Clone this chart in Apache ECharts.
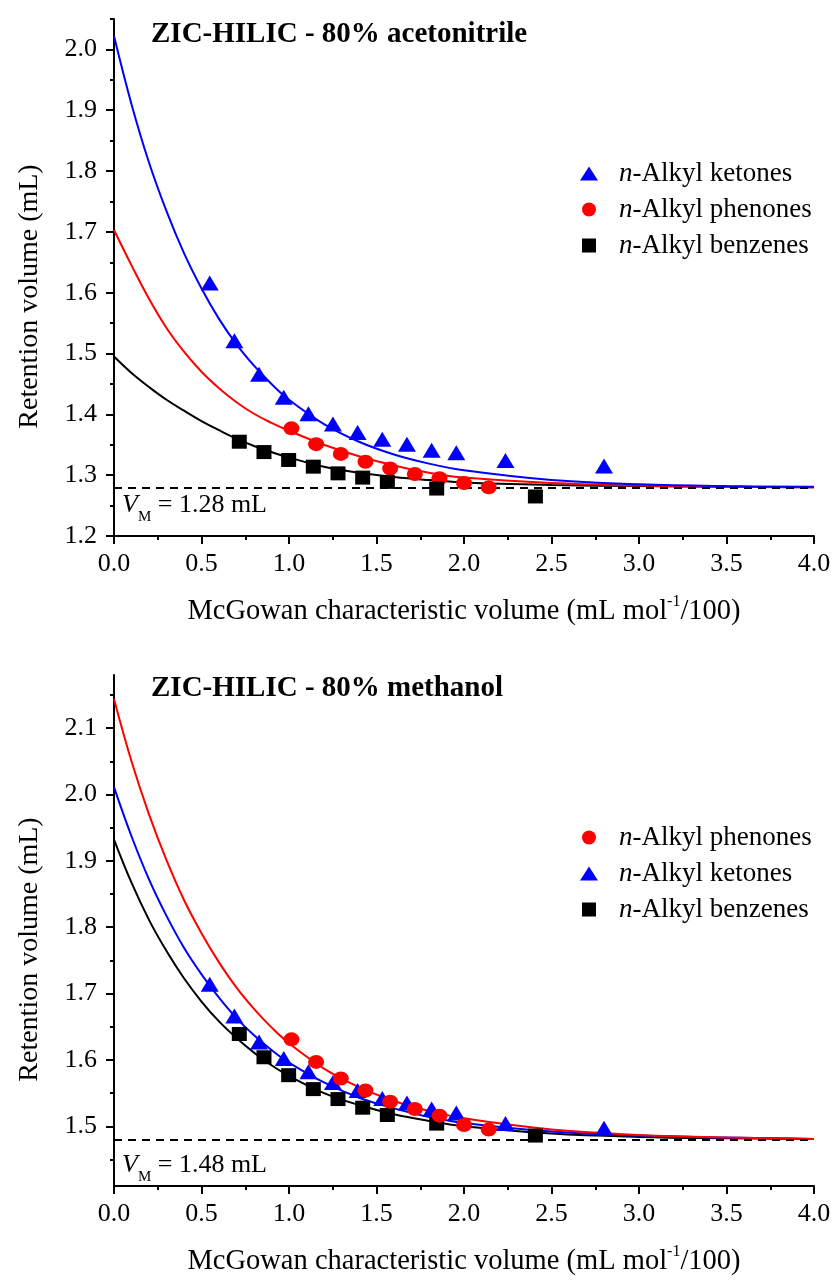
<!DOCTYPE html>
<html><head><meta charset="utf-8">
<script src="https://cdn.jsdelivr.net/npm/echarts@6/dist/echarts.min.js"></script>
<style>html,body{margin:0;padding:0;background:#fff}#c{width:835px;height:1281px}</style>
</head><body><div id="c"></div>
<script>
const FONT = '"Liberation Serif","Times New Roman",serif';

// --- names ---
const nameKetones = 'n-Alkyl ketones';
const namePhenones = 'n-Alkyl phenones';
const nameBenzenes = 'n-Alkyl benzenes';
const titleAcn = 'ZIC-HILIC - 80% acetonitrile';
const titleMeoh = 'ZIC-HILIC - 80% methanol';

// --- McGowan volumes (x) ---
const xKetones = [0.547,0.688,0.829,0.970,1.111,1.251,1.392,1.533,1.674,1.815,1.956,2.237,2.800];
const xPhenones = [1.014,1.155,1.296,1.437,1.578,1.719,1.860,2.000,2.141];
const xBenzenes = [0.716,0.857,0.998,1.139,1.280,1.421,1.562,1.844,2.408];

// --- 80% acetonitrile retention volumes ---
const acnKetones = [1.616,1.521,1.466,1.428,1.401,1.384,1.370,1.359,1.351,1.341,1.337,1.324,1.315];
const acnPhenones = [1.377,1.351,1.335,1.322,1.311,1.302,1.295,1.287,1.280];
const acnBenzenes = [1.355,1.338,1.325,1.314,1.303,1.296,1.289,1.278,1.265];

// --- 80% methanol retention volumes ---
const meohKetones = [1.714,1.666,1.627,1.602,1.582,1.566,1.554,1.542,1.535,1.526,1.520,1.504,1.497];
const meohPhenones = [1.631,1.597,1.572,1.554,1.537,1.526,1.516,1.502,1.495];
const meohBenzenes = [1.639,1.604,1.577,1.556,1.541,1.528,1.517,1.504,1.486];

// --- fitted curves ---
const xFit = [0,0.1,0.2,0.3,0.4,0.5,0.6,0.7,0.8,0.9,1.0,1.2,1.4,1.6,1.8,2.0,2.5,3.0,3.5,4.0];
const fitAcnKetones  = [2.022,1.910,1.814,1.734,1.665,1.607,1.557,1.515,1.480,1.450,1.424,1.384,1.355,1.334,1.319,1.308,1.292,1.285,1.282,1.281];
const fitAcnPhenones = [1.703,1.645,1.590,1.542,1.503,1.470,1.443,1.420,1.401,1.386,1.373,1.350,1.331,1.316,1.304,1.296,1.287,1.283,1.281,1.280];
const fitAcnBenzenes = [1.495,1.468,1.445,1.424,1.406,1.389,1.374,1.360,1.348,1.338,1.329,1.314,1.304,1.297,1.292,1.288,1.284,1.282,1.281,1.280];
const fitMeohPhenones = [2.144,2.050,1.970,1.901,1.841,1.791,1.747,1.709,1.677,1.649,1.625,1.587,1.559,1.538,1.523,1.512,1.495,1.487,1.483,1.481];
const fitMeohKetones  = [2.011,1.937,1.872,1.817,1.769,1.729,1.694,1.663,1.637,1.615,1.596,1.566,1.543,1.527,1.514,1.505,1.492,1.486,1.483,1.481];
const fitMeohBenzenes = [1.932,1.867,1.811,1.764,1.723,1.688,1.658,1.633,1.611,1.592,1.576,1.550,1.532,1.518,1.508,1.500,1.489,1.484,1.482,1.481];

// --- dead volumes ---
const vmAcn = 1.28;
const vmMeoh = 1.48;

// --- axis ticks ---
const xMin = 0, xMax = 4, xStep = 0.5;
const yTicksAcn = [1.2,1.3,1.4,1.5,1.6,1.7,1.8,1.9,2.0];
const yMinorAcn = [1.25,1.35,1.45,1.55,1.65,1.75,1.85,1.95,2.05];
const yRangeAcn = [1.2, 2.05];
const yTicksMeoh = [1.5,1.6,1.7,1.8,1.9,2.0,2.1];
const yMinorMeoh = [1.45,1.55,1.65,1.75,1.85,1.95,2.05,2.15];
const yRangeMeoh = [1.41, 2.18];

const BLUE = '#0000ff', RED = '#ff0000', BLACK = '#000000';
const ELLIPSE = 'path://M0,50A50,50,0,1,1,100,50A50,50,0,1,1,0,50Z';
const SQUARE = 'path://M0,0H10V10H0Z';

const zip = (xs, ys) => xs.map((x, i) => [x, ys[i]]);

const xAxisName = 'McGowan characteristic volume (mL mol{sup|-1}/100)';

function xAxisCfg(gi) {
  return {
    gridIndex: gi, type: 'value', min: xMin, max: xMax, interval: xStep,
    axisLine: { lineStyle: { color: BLACK, width: 2 } },
    axisTick: { length: 8, lineStyle: { color: BLACK, width: 2 } },
    minorTick: { show: true, splitNumber: 2, length: 4, lineStyle: { color: BLACK, width: 2 } },
    splitLine: { show: false }, minorSplitLine: { show: false },
    axisLabel: { color: BLACK, fontFamily: FONT, fontSize: 26, margin: 15, formatter: v => v.toFixed(1) },
    name: xAxisName, nameLocation: 'middle', nameGap: 58,
    nameTextStyle: { color: BLACK, fontFamily: FONT, fontSize: 28.5, lineHeight: 36,
      rich: { sup: { color: BLACK, fontFamily: FONT, fontSize: 16, lineHeight: 16, verticalAlign: 'top' } } }
  };
}
function yAxisCfg(gi, range, ticks) {
  return {
    gridIndex: gi, type: 'value', position: 'left', min: range[0], max: range[1],
    axisLine: { onZero: false, lineStyle: { color: BLACK, width: 2 } },
    axisTick: { length: 8, customValues: ticks, lineStyle: { color: BLACK, width: 2 } },
    splitLine: { show: false },
    axisLabel: { color: BLACK, fontFamily: FONT, fontSize: 26, margin: 17, customValues: ticks, formatter: v => v.toFixed(1) },
    name: 'Retention volume (mL)', nameLocation: 'middle', nameGap: 70, nameRotate: 90,
    nameTextStyle: { color: BLACK, fontFamily: FONT, fontSize: 28, padding: [0, 38, 0, 0] }
  };
}
function yMinorCfg(gi, range, ticks) {
  return {
    gridIndex: gi, type: 'value', position: 'left', offset: 0, min: range[0], max: range[1],
    axisLine: { show: false }, splitLine: { show: false },
    axisTick: { length: 4, customValues: ticks, lineStyle: { color: BLACK, width: 2 } },
    axisLabel: { show: false, customValues: ticks }
  };
}
function fitLine(xi, yi, ys, color, vm) {
  const s = { type: 'line', xAxisIndex: xi, yAxisIndex: yi, data: zip(xFit, ys), smooth: 0.4,
    showSymbol: false, silent: true, lineStyle: { color, width: 2 }, z: 2 };
  if (vm !== undefined) {
    s.markLine = { silent: true, symbol: ['none', 'none'], label: { show: false },
      lineStyle: { color: BLACK, width: 2, type: [8, 6] }, data: [{ yAxis: vm }] };
  }
  return s;
}
function pts(xi, yi, name, xs, ys, symbol, size, color) {
  return { type: 'scatter', name, xAxisIndex: xi, yAxisIndex: yi, data: zip(xs, ys),
    symbol, symbolSize: size, itemStyle: { color, opacity: 1 }, z: 5 };
}
const legendText = {
  color: BLACK, fontFamily: FONT, fontSize: 27, lineHeight: 26, padding: [0, 0, 0, 16],
  rich: { i: { color: BLACK, fontFamily: FONT, fontSize: 27, fontStyle: 'italic', lineHeight: 26 } }
};
const legendFmt = n => '{i|n}' + n.slice(1);
const vmRich = {
  v: { color: BLACK, fontFamily: FONT, fontSize: 26, fontStyle: 'italic', lineHeight: 40 },
  s: { color: BLACK, fontFamily: FONT, fontSize: 15, lineHeight: 15, verticalAlign: 'bottom' },
  t: { color: BLACK, fontFamily: FONT, fontSize: 26, lineHeight: 40 }
};
const titleStyle = { color: BLACK, fontFamily: FONT, fontSize: 29, fontWeight: 'bold' };

const chart = echarts.init(document.getElementById('c'), null, { renderer: 'canvas' });
chart.setOption({
  backgroundColor: '#fff',
  animation: false,
  title: [
    { text: titleAcn, left: 146, top: 15, textStyle: titleStyle },
    { text: titleMeoh, left: 146, top: 669, textStyle: titleStyle }
  ],
  grid: [
    { left: 114, top: 19, width: 700, height: 517 },
    { left: 114, top: 675, width: 700, height: 516 }
  ],
  legend: [
    { orient: 'vertical', left: 575, top: 155, itemWidth: 18, itemHeight: 14, itemGap: 9,
      formatter: legendFmt, textStyle: legendText,
      data: [{ name: nameKetones, icon: 'triangle' }, { name: namePhenones, icon: 'circle' }, { name: nameBenzenes, icon: SQUARE }] },
    { orient: 'vertical', left: 575, top: 819, itemWidth: 18, itemHeight: 14, itemGap: 9,
      formatter: legendFmt, textStyle: legendText,
      data: [{ name: namePhenones, icon: 'circle' }, { name: nameKetones, icon: 'triangle' }, { name: nameBenzenes, icon: SQUARE }] }
  ],
  xAxis: [xAxisCfg(0), xAxisCfg(1)],
  yAxis: [yAxisCfg(0, yRangeAcn, yTicksAcn), yMinorCfg(0, yRangeAcn, yMinorAcn),
          yAxisCfg(1, yRangeMeoh, yTicksMeoh), yMinorCfg(1, yRangeMeoh, yMinorMeoh)],
  graphic: [
    { type: 'text', left: 122, top: 492, silent: true,
      style: { text: '{v|V}{s|M}{t| = 1.28 mL}', rich: vmRich } },
    { type: 'text', left: 122, top: 1152, silent: true,
      style: { text: '{v|V}{s|M}{t| = 1.48 mL}', rich: vmRich } }
  ],
  series: [
    fitLine(0, 0, fitAcnBenzenes, BLACK, vmAcn),
    fitLine(0, 0, fitAcnPhenones, RED),
    fitLine(0, 0, fitAcnKetones, BLUE),
    pts(0, 0, nameKetones, xKetones, acnKetones, 'triangle', [18, 15], BLUE),
    pts(0, 0, namePhenones, xPhenones, acnPhenones, ELLIPSE, [16, 14], RED),
    pts(0, 0, nameBenzenes, xBenzenes, acnBenzenes, 'rect', [15, 14], BLACK),

    fitLine(1, 2, fitMeohBenzenes, BLACK, vmMeoh),
    fitLine(1, 2, fitMeohKetones, BLUE),
    fitLine(1, 2, fitMeohPhenones, RED),
    pts(1, 2, nameBenzenes, xBenzenes, meohBenzenes, 'rect', [15, 14], BLACK),
    pts(1, 2, nameKetones, xKetones, meohKetones, 'triangle', [18, 15], BLUE),
    pts(1, 2, namePhenones, xPhenones, meohPhenones, ELLIPSE, [16, 14], RED)
  ]
});
</script>
</body></html>
